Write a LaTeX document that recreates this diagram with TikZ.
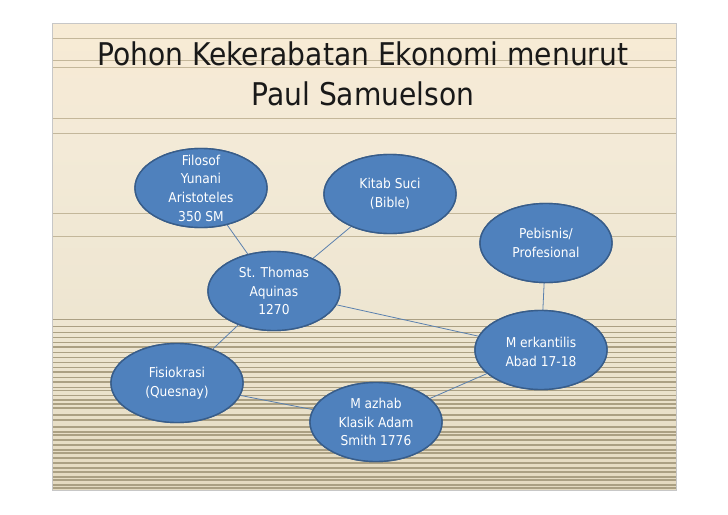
\documentclass[tikz,border=0pt]{standalone}
\usepackage{fontspec}
\setmainfont{DejaVu Sans Condensed}
\usetikzlibrary{shapes.geometric}
\definecolor{bgtop}{HTML}{FDEBD0}
\definecolor{bgtwo}{HTML}{FAEBD3}
\definecolor{bgmid}{HTML}{F3EAD7}
\definecolor{bglow}{HTML}{EDE5D0}
\definecolor{bgdeep}{HTML}{E1D6BA}
\definecolor{bgbot}{HTML}{D6C9A8}
\definecolor{stripe}{HTML}{B8AB8C}
\definecolor{stripedark}{HTML}{ABA083}
\definecolor{ovalfill}{HTML}{4F81BD}
\definecolor{ovaldraw}{HTML}{385D8A}
\definecolor{link}{HTML}{5A80AE}
\pgfdeclareverticalshading{slidebg}{100bp}{color(0bp)=(bgbot); color(20bp)=(bgdeep);
  color(40bp)=(bglow); color(62bp)=(bgmid); color(82bp)=(bgtwo); color(100bp)=(bgtop)}
\tikzset{
  oval/.style={ellipse, draw=ovaldraw, line width=1.4pt, fill=ovalfill,
    minimum width=132pt, minimum height=79pt, inner sep=0pt},
  ovaltext/.style={text=white, align=center, inner sep=0pt,
    font=\fontsize{13.6pt}{18.7pt}\selectfont},
  link/.style={draw=link, line width=0.8pt},
  titletext/.style={anchor=base, inner sep=0pt, text=black!90,
    font=\fontsize{31.3pt}{41pt}\selectfont},
  stripeline/.style={draw=stripe},
  stripelow/.style={draw=stripedark}
}
\begin{document}
\begin{tikzpicture}[x=1pt,y=-1pt]
\useasboundingbox (0,0) rectangle (728,514);
\fill[white] (0,0) rectangle (728,514);
% slide background
\shade[shading=slidebg] (52,23) rectangle (676,490);
\foreach \yy in {38,60,67,118,133,213,236}
  \draw[stripeline, line width=0.7pt, draw opacity=0.8] (52,\yy) -- (676,\yy);
\foreach \yy/\ww in {319/0.8,326/0.8,332/0.9,337/0.9,342/0.9,347/2,352/0.9,357/0.9,
  362/1,367/1,372/2,377/1,382/2.6,387/1,390/1,395/1,400/1.2,404/1.2,408/1.8,
  415/1.2,420/1.2,427/1.3,432/1.3,435/1.8,440/1.3,445/1.3,450/1.5,453/1.8,458/1.3,463/1.5,468/1.8,
  472/1.5,477/1.8,480/2,485/2.2,488/2.2}
  \draw[stripelow, line width=\ww pt] (52,\yy) -- (676,\yy);
\draw[draw=black!22, line width=0.8pt] (52,23) rectangle (676,490);
% title
\node[titletext] (t1) at (363,65) {Pohon Kekerabatan Ekonomi menurut};
\node[titletext] (t2) at (363,105) {Paul Samuelson};
% ovals
\node[oval] (fil) at (201,188) {};
\node[oval] (kit) at (390,194) {};
\node[oval] (tho) at (274,291) {};
\node[oval] (peb) at (546,243) {};
\node[oval] (mer) at (541,350) {};
\node[oval] (fis) at (177,383) {};
\node[oval] (maz) at (376,422) {};
% connectors
\draw[link] (fil) -- (tho);
\draw[link] (kit) -- (tho);
\draw[link] (tho) -- (fis);
\draw[link] (tho) -- (mer);
\draw[link] (peb) -- (mer);
\draw[link] (fis) -- (maz);
\draw[link] (maz) -- (mer);
% redraw ovals on top of connectors
\foreach \n in {fil,kit,tho,peb,mer,fis,maz}
  \node[oval] at (\n) {};
% texts
\node[ovaltext] (filt) at (fil) {Filosof\\Yunani\\Aristoteles\\350 SM};
\node[ovaltext] (kitt) at (kit) {Kitab Suci\\(Bible)};
\node[ovaltext] (thot) at (tho) {St. Thomas\\Aquinas\\1270};
\node[ovaltext] (pebt) at (peb) {Pebisnis/\\Profesional};
\node[ovaltext] (mert) at ([yshift=-2pt]mer.center) {M erkantilis\\Abad 17-18};
\node[ovaltext] (fist) at (fis) {Fisiokrasi\\(Quesnay)};
\node[ovaltext] (mazt) at (maz) {M azhab\\Klasik Adam\\Smith 1776};
\end{tikzpicture}
\end{document}
